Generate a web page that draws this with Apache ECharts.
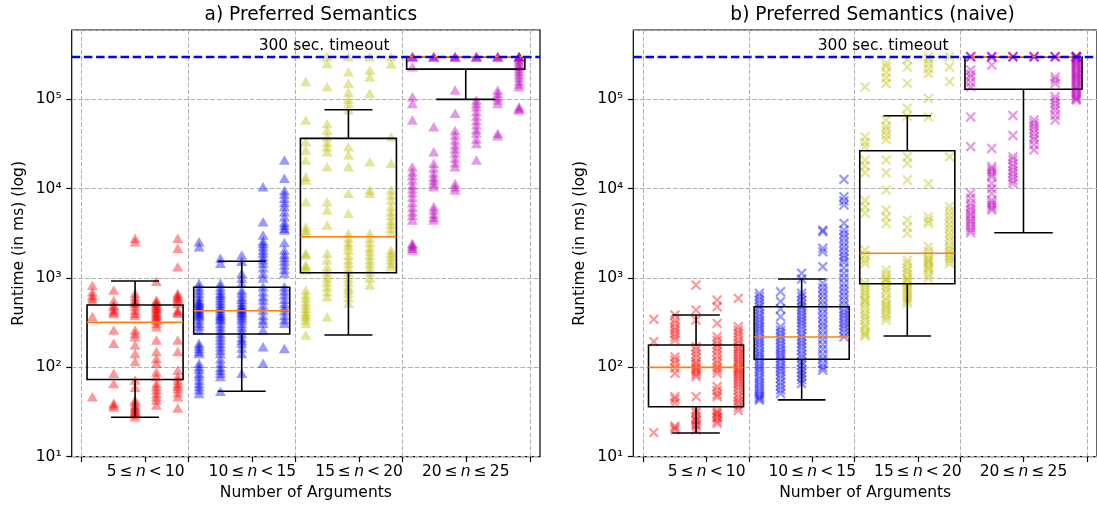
<!DOCTYPE html>
<html>
<head>
<meta charset="utf-8">
<title>Preferred Semantics runtimes</title>
<script src="https://cdn.jsdelivr.net/npm/echarts@6/dist/echarts.min.js"></script>
<style>
  html, body { margin: 0; padding: 0; background: #fff; }
  #chart { width: 1097px; height: 507px; }
</style>
</head>
<body>
<div id="chart"></div>
<script>
// number of arguments, one column of runs per value
const nValues = [5, 6, 7, 8, 9, 10, 11, 12, 13, 14, 15, 16, 17, 18, 19, 20, 21, 22, 23, 24, 25];

// runtimes in ms, one array per n (panel a)
const prefRuntimes = [
  [830, 700, 640, 600, 560, 370, 47],
  [735, 560, 500, 480, 440, 420, 400, 262, 186, 86, 66, 40, 38, 36],
  [2780, 2550, 675, 620, 567, 540, 520, 480, 438, 403, 380, 262, 240, 220, 178, 143, 116, 72, 60, 43, 41, 38, 36, 35, 33, 32, 31, 30, 28],
  [920, 567, 540, 520, 500, 477, 460, 440, 420, 403, 385, 370, 355, 339, 310, 285, 202, 150, 126, 111, 89, 79, 66, 61, 56, 51, 47, 43, 38],
  [2780, 2150, 1340, 675, 640, 617, 590, 567, 520, 438, 420, 403, 202, 150, 93, 79, 72, 66, 62, 58, 52, 47, 35],
  [2550, 2240, 871, 800, 735, 675, 617, 567, 540, 521, 500, 480, 460, 438, 420, 400, 385, 369, 340, 311, 290, 262, 186, 175, 163, 150, 143, 111, 102, 95, 86, 80, 72, 66, 61, 56, 51],
  [1660, 1460, 871, 800, 735, 675, 640, 600, 560, 521, 490, 460, 430, 403, 385, 370, 350, 339, 310, 285, 260, 240, 220, 202, 185, 170, 155, 143, 125, 111, 100, 93, 86, 79, 54],
  [1810, 1540, 1130, 1000, 871, 735, 680, 617, 580, 540, 500, 477, 455, 440, 420, 403, 380, 360, 339, 310, 285, 260, 240, 215, 200, 186, 165, 143, 86],
  [10500, 4270, 3030, 2600, 2440, 2250, 2055, 1900, 1730, 1600, 1460, 1300, 1130, 1000, 800, 700, 620, 567, 500, 438, 380, 340, 311, 262, 170, 111],
  [20900, 13060, 9550, 8700, 7800, 7000, 6300, 5500, 4850, 4200, 3900, 3600, 3440, 2500, 2055, 1850, 1700, 1550, 1400, 1250, 1130, 800, 720, 650, 580, 520, 470, 430, 380, 340, 311, 163],
  [158000, 58600, 33500, 27000, 20900, 13600, 12500, 7140, 3750, 3400, 3160, 1890, 1810, 1400, 1340, 1230, 735, 650, 600, 540, 500, 460, 420, 390, 370, 340, 311, 230],
  [300000, 252000, 138000, 53800, 45000, 38000, 33000, 29500, 25900, 17600, 7140, 5770, 3920, 1890, 1600, 1340, 1150, 1000, 900, 800, 700, 617, 369],
  [300000, 204000, 151000, 120000, 100000, 90000, 76500, 29500, 23800, 17600, 8870, 5300, 3160, 2800, 2500, 2300, 2055, 1800, 1600, 1450, 1300, 1150, 1000, 900, 800, 740, 675, 600, 521],
  [300000, 213000, 178000, 116700, 20000, 9650, 8900, 3160, 2800, 2500, 2200, 2000, 1800, 1600, 1450, 1300, 1150, 1000, 834],
  [300000, 250000, 38000, 19200, 9650, 8500, 7400, 6300, 5500, 5000, 4400, 4000, 3600, 3160, 2055, 1890, 1750, 1600, 1450, 1340],
  [300000, 300000, 300000, 232000, 107000, 90000, 58600, 17600, 15500, 14000, 12500, 11000, 10000, 9000, 8000, 7000, 6200, 5500, 5000, 4450, 2450, 2350, 2250, 2150, 2055],
  [300000, 300000, 300000, 49300, 25900, 19200, 17000, 15000, 13500, 12500, 11500, 10500, 6300, 5800, 5200, 4800, 4450],
  [300000, 300000, 300000, 127000, 69700, 44800, 40000, 35000, 31000, 28000, 25000, 22000, 19500, 17600, 11400, 10500, 9650],
  [300000, 300000, 300000, 98000, 90000, 82800, 73000, 65000, 58000, 52000, 46000, 42000, 36000, 32000, 20900],
  [300000, 300000, 300000, 127000, 117000, 107000, 98000, 90000, 41700, 39000],
  [300000, 300000, 300000, 300000, 300000, 280000, 265000, 250000, 235000, 220000, 205000, 190000, 175000, 160000, 148000, 138000, 82800, 79000, 76000]
];

// runtimes in ms, one array per n (panel b)
const naiveRuntimes = [
  [345, 194, 18.6],
  [385, 339, 310, 280, 260, 240, 220, 202, 131, 120, 110, 98, 86, 47, 44, 40, 22, 21, 20],
  [834, 438, 339, 170, 155, 140, 128, 115, 108, 100, 95, 90, 84, 79, 47, 33, 31, 28, 26, 25, 23, 22, 20],
  [567, 477, 311, 220, 200, 180, 165, 150, 135, 120, 110, 100, 93, 86, 61, 55, 50, 47, 33, 31, 30, 28, 27, 25, 23.6],
  [592, 285, 260, 240, 220, 200, 185, 170, 160, 150, 140, 130, 122, 115, 108, 100, 95, 90, 85, 80, 75, 70, 65, 60, 55, 50, 46, 42, 39, 36, 33],
  [675, 620, 567, 520, 480, 440, 400, 370, 340, 315, 290, 270, 250, 230, 210, 195, 180, 165, 150, 140, 130, 120, 110, 102, 95, 88, 80, 74, 68, 63, 58, 54, 50, 47, 45, 43],
  [703, 545, 450, 369, 285, 260, 240, 220, 202, 185, 170, 157, 145, 135, 125, 115, 105, 97, 90, 82, 75, 68, 62, 56, 51],
  [1130, 975, 675, 620, 560, 510, 470, 435, 400, 370, 340, 315, 290, 265, 240, 220, 200, 185, 170, 155, 140, 128, 115, 105, 95, 87, 80, 73, 66],
  [3440, 3300, 2150, 1970, 1340, 871, 780, 700, 630, 560, 500, 450, 400, 360, 320, 290, 260, 230, 205, 180, 160, 140, 125, 110, 100, 93],
  [12700, 8130, 7300, 6560, 4090, 3440, 3100, 2800, 2500, 2240, 2000, 1800, 1650, 1500, 1300, 1130, 1000, 871, 780, 700, 630, 560, 500, 450, 410, 380, 350, 320, 295, 270, 245, 220],
  [138000, 38000, 33000, 29500, 20900, 18000, 15100, 7400, 6300, 5300, 2055, 1800, 1600, 1460, 871, 800, 735, 680, 620, 567, 550, 500, 450, 403, 370, 339, 300, 280, 250, 235, 224],
  [252000, 230000, 200000, 175000, 151000, 58600, 50000, 45000, 40000, 35600, 20900, 15100, 9650, 5770, 4800, 4090, 1230, 1100, 1000, 950, 900, 820, 750, 680, 600, 550, 500, 470, 440, 400, 369, 339],
  [280000, 230000, 151000, 79400, 65000, 22700, 19200, 12500, 4450, 3700, 3160, 1570, 1450, 1300, 1200, 1100, 1000, 950, 880, 800, 750, 700, 650, 600, 560, 521],
  [300000, 280000, 250000, 220000, 195000, 102000, 63500, 11400, 4850, 4400, 4090, 2240, 2000, 1800, 1650, 1570, 1500, 1400, 1300, 1230, 1100, 1000],
  [300000, 230000, 158000, 22700, 6300, 5600, 5000, 4500, 4000, 3600, 3200, 2900, 2600, 2300, 2100, 1950, 1800, 1680, 1570, 1450],
  [300000, 300000, 300000, 213000, 190000, 175000, 155000, 138000, 63500, 29500, 8870, 7800, 6900, 6300, 5800, 5300, 5000, 4600, 4300, 4000, 3700, 3450, 3210],
  [300000, 300000, 300000, 242000, 28200, 17600, 16500, 15500, 14500, 13600, 11400, 10000, 8870, 7400, 6900, 6500, 6100, 5770],
  [300000, 300000, 300000, 66000, 39300, 22700, 21000, 19000, 17500, 16000, 14800, 13500, 12400, 11400],
  [300000, 300000, 300000, 58600, 54000, 50000, 46000, 42000, 38000, 35000, 31000, 27200],
  [300000, 300000, 300000, 178000, 165000, 151000, 107000, 98000, 90000, 82000, 75000, 66000, 58600],
  [300000, 300000, 300000, 300000, 300000, 300000, 290000, 280000, 270000, 260000, 250000, 240000, 230000, 220000, 210000, 200000, 192000, 185000, 177000, 170000, 162000, 155000, 147000, 140000, 134000, 128000, 121000, 115000, 110000, 105000, 101000, 98000]
];

// box stats per group: [lower whisker, Q1, median, Q3, upper whisker]
const prefBoxes = [
  [27.6, 73, 319, 499, 925],
  [54, 236, 430, 787, 1540],
  [230, 1145, 2900, 36600, 76500],
  [100000, 218000, 300000, 300000, 300000]
];
const naiveBoxes = [
  [18.4, 36.3, 100, 178, 385],
  [43.2, 123, 219, 477, 975],
  [224, 863, 1890, 26600, 65600],
  [3213, 129500, 300000, 300000, 300000]
];

const groupCenters = [7, 12, 17, 22.5];
const groupEdges = [4.5, 9.5, 14.5, 19.5, 25.5];
const labelTicks = [7.5, 12.5, 17.5, 22.5];
const groupLabels = [
  '5\u2009≤\u2009{i|n}\u2009<\u200910',
  '10\u2009≤\u2009{i|n}\u2009<\u200915',
  '15\u2009≤\u2009{i|n}\u2009<\u200920',
  '20\u2009≤\u2009{i|n}\u2009≤\u200925'
];
const yTickLabels = ['10¹', '10²', '10³', '10⁴', '10⁵'];
const TIMEOUT_MS = 300000;
const TIMEOUT_LABEL = '300 sec. timeout';

// styling
const FONT = 'DejaVu Sans';
const FS = 15.5;
const GROUP_COLORS = ['#ff0000', '#0000ff', '#bfbf00', '#bf00bf'];
const BOX_HALF = [2.25, 2.25, 2.25, 2.77];
const X_MIN = 4.03, X_MAX = 25.98;
const Y_MIN = 10, Y_MAX = 597000;
const CROSS = 'path://M4.12,0H5.88V4.12H10V5.88H5.88V10H4.12V5.88H0V4.12H4.12Z';

const groupOf = n => (n < 10 ? 0 : n < 15 ? 1 : n < 20 ? 2 : 3);

const chart = echarts.init(document.getElementById('chart'));

function xAxes(p) {
  return [
    {
      type: 'value', gridIndex: p, min: X_MIN, max: X_MAX, position: 'bottom',
      axisLine: { show: false },
      axisTick: { show: true, customValues: groupEdges, length: 5.4, lineStyle: { color: '#000', width: 1.2 } },
      axisLabel: { show: false },
      splitLine: { show: true, lineStyle: { color: '#b0b0b0', width: 1, type: [4.6, 2] } },
      name: 'Number of Arguments', nameLocation: 'middle', nameGap: 28,
      nameTextStyle: { fontFamily: FONT, fontSize: FS, color: '#000' }
    },
    {
      type: 'value', gridIndex: p, min: X_MIN, max: X_MAX, position: 'bottom',
      axisLine: { show: false },
      axisTick: { show: true, customValues: labelTicks, length: 5.4, lineStyle: { color: '#000', width: 1.2 } },
      axisLabel: {
        show: true, customValues: labelTicks, margin: 7,
        fontFamily: FONT, fontSize: FS, color: '#000',
        formatter: v => groupLabels[labelTicks.findIndex(t => Math.abs(t - v) < 1e-6)] || '',
        rich: { i: { fontFamily: FONT, fontSize: FS, fontStyle: 'italic', color: '#000' } }
      },
      splitLine: { show: false }
    }
  ];
}

function yAxis(p) {
  return {
    type: 'log', logBase: 10, gridIndex: p, min: Y_MIN, max: Y_MAX,
    axisLine: { show: false },
    axisTick: { show: true, length: 5.4, lineStyle: { color: '#000', width: 1.2 } },
    minorTick: { show: false },
    axisLabel: {
      margin: 10, fontFamily: FONT, fontSize: FS, color: '#000', showMaxLabel: false,
      formatter: v => {
        const e = Math.log10(v);
        const k = Math.round(e);
        return Math.abs(e - k) < 1e-6 && k >= 1 && k <= 5 ? yTickLabels[k - 1] : '';
      }
    },
    splitLine: { show: true, lineStyle: { color: '#b0b0b0', width: 1, type: [4.6, 2] } },
    name: 'Runtime (in ms) (log)', nameLocation: 'middle', nameGap: 45, nameRotate: 90,
    nameTextStyle: { fontFamily: FONT, fontSize: FS, color: '#000' }
  };
}

function renderBox(params, api) {
  const x = api.value(0);
  const hw = BOX_HALF[api.value(6)];
  const yLo = api.coord([x, api.value(1)])[1];
  const yQ1 = api.coord([x, api.value(2)])[1];
  const yMed = api.coord([x, api.value(3)])[1];
  const yQ3 = api.coord([x, api.value(4)])[1];
  const yHi = api.coord([x, api.value(5)])[1];
  const xc = api.coord([x, api.value(3)])[0];
  const xl = api.coord([x - hw, api.value(3)])[0];
  const xr = api.coord([x + hw, api.value(3)])[0];
  const cl = api.coord([x - hw / 2, api.value(3)])[0];
  const cr = api.coord([x + hw / 2, api.value(3)])[0];
  const black = { stroke: '#000', lineWidth: 1.6, fill: null };
  return {
    type: 'group',
    children: [
      { type: 'line', shape: { x1: xc, y1: yQ3, x2: xc, y2: yHi }, style: black },
      { type: 'line', shape: { x1: xc, y1: yQ1, x2: xc, y2: yLo }, style: black },
      { type: 'line', shape: { x1: cl, y1: yHi, x2: cr, y2: yHi }, style: black },
      { type: 'line', shape: { x1: cl, y1: yLo, x2: cr, y2: yLo }, style: black },
      { type: 'rect', shape: { x: xl, y: yQ3, width: xr - xl, height: yQ1 - yQ3 }, style: { stroke: '#000', lineWidth: 1.6, fill: 'none' } },
      { type: 'line', shape: { x1: xl, y1: yMed, x2: xr, y2: yMed }, style: { stroke: '#ff7f0e', lineWidth: 1.6 } }
    ]
  };
}

function panelSeries(p, runtimes, boxes, symbol) {
  const out = [];
  // timeout line + its label
  out.push({
    type: 'custom', xAxisIndex: 2 * p, yAxisIndex: p, z: 2, silent: true,
    data: [[15.86, TIMEOUT_MS]],
    renderItem: (params, api) => {
      const pt = api.coord([api.value(0), api.value(1)]);
      return {
        type: 'text', x: pt[0], y: pt[1] - 2.5,
        style: {
          text: TIMEOUT_LABEL, fill: '#000', fontFamily: FONT, fontSize: FS,
          font: FS + 'px "' + FONT + '"',
          align: 'center', verticalAlign: 'bottom', textAlign: 'center', textVerticalAlign: 'bottom'
        }
      };
    },
    markLine: {
      silent: true, symbol: 'none', label: { show: false },
      lineStyle: { color: '#0000ff', width: 2.3, type: [8.5, 3.7] },
      data: [{ yAxis: TIMEOUT_MS }]
    }
  });
  for (let g = 0; g < 4; g++) {
    const data = [];
    nValues.forEach((n, i) => {
      if (groupOf(n) === g) runtimes[i].forEach(v => data.push([n, v]));
    });
    const s = {
      type: 'scatter', xAxisIndex: 2 * p, yAxisIndex: p, z: 3, silent: true,
      data,
      itemStyle: { color: GROUP_COLORS[g], opacity: 0.4 }
    };
    if (symbol === 'x') {
      s.symbol = CROSS; s.symbolSize = 12.5; s.symbolRotate = 45;
    } else {
      s.symbol = 'triangle'; s.symbolSize = [11, 9.5];
    }
    out.push(s);
  }
  out.push({
    type: 'custom', xAxisIndex: 2 * p, yAxisIndex: p, z: 4, silent: true,
    data: boxes.map((b, g) => [groupCenters[g], b[0], b[1], b[2], b[3], b[4], g]),
    encode: { x: 0, y: [1, 2, 3, 4, 5] },
    renderItem: renderBox
  });
  return out;
}

const titleStyle = { fontFamily: FONT, fontSize: 18.6, fontWeight: 'normal', color: '#000' };

chart.setOption({
  animation: false,
  backgroundColor: '#fff',
  textStyle: { fontFamily: FONT },
  title: [
    { text: 'a) Preferred Semantics', left: 305.9, top: 1, textAlign: 'center', textStyle: titleStyle },
    { text: 'b) Preferred Semantics (naive)', left: 867.5, top: 1, textAlign: 'center', textStyle: titleStyle }
  ],
  grid: [
    { left: 71.7, top: 30, width: 468.3, height: 426.7, show: true, borderColor: '#000', borderWidth: 1.2 },
    { left: 633.3, top: 30, width: 468.3, height: 426.7, show: true, borderColor: '#000', borderWidth: 1.2 }
  ],
  xAxis: [...xAxes(0), ...xAxes(1)],
  yAxis: [yAxis(0), yAxis(1)],
  series: [
    ...panelSeries(0, prefRuntimes, prefBoxes, 'triangle'),
    ...panelSeries(1, naiveRuntimes, naiveBoxes, 'x')
  ]
});
</script>
</body>
</html>
